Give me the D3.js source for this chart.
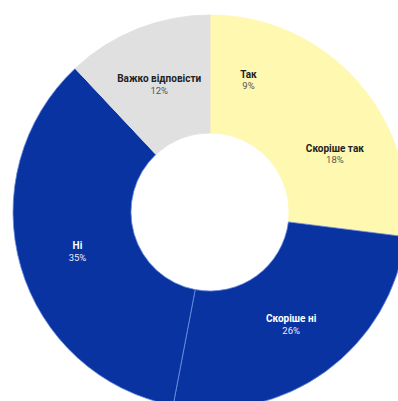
<!DOCTYPE html>
<html>
<head>
<meta charset="utf-8">
<script src="https://cdn.jsdelivr.net/npm/d3@7/dist/d3.min.js"></script>
<style>
  html, body { margin: 0; padding: 0; background: #fff; }
  svg { display: block; }
</style>
</head>
<body>
<div id="chart"></div>
<script>
// Survey answers, in clockwise order from 12 o'clock
const categories = ["Так", "Скоріше так", "Скоріше ні", "Ні", "Важко відповісти"];
const shares = [9, 18, 26, 35, 12];
const fills = ["#fff8b0", "#fff8b0", "#0833a0", "#0833a0", "#e0e0e0"];
const textColors = ["#222", "#222", "#fff", "#fff", "#222"];

const width = 398, height = 401;
const cx = 210, cy = 212;
const outerR = 197, innerR = 79;

const svg = d3.select("#chart").append("svg")
  .attr("width", width)
  .attr("height", height);

const data = categories.map((c, i) => ({ name: c, value: shares[i], fill: fills[i], text: textColors[i] }));

const pie = d3.pie().value(d => d.value).sort(null);
const arc = d3.arc().innerRadius(innerR).outerRadius(outerR);

const g = svg.append("g").attr("transform", `translate(${cx},${cy})`);

const arcs = pie(data);

g.selectAll("path.slice")
  .data(arcs)
  .join("path")
  .attr("class", "slice")
  .attr("d", arc)
  .attr("fill", d => d.data.fill)
  .attr("stroke", d => d.data.fill === "#0833a0" ? "#6f8fe0" : d.data.fill)
  .attr("stroke-width", 0.8);

const labels = g.selectAll("g.label")
  .data(arcs)
  .join("g")
  .attr("class", "label")
  .attr("transform", d => `translate(${arc.centroid(d)})`)
  .attr("text-anchor", "middle")
  .style("font-family", "Roboto, 'Noto Sans', sans-serif");

labels.append("text")
  .attr("y", -1.5)
  .attr("font-size", 10)
  .attr("font-weight", "bold")
  .attr("fill", d => d.data.text)
  .text(d => d.data.name);

labels.append("text")
  .attr("y", 10)
  .attr("font-size", 9.5)
  .attr("fill", d => d.data.text === "#fff" ? "#e8ecff" : "#555")
  .text(d => d.data.value + "%");
</script>
</body>
</html>
